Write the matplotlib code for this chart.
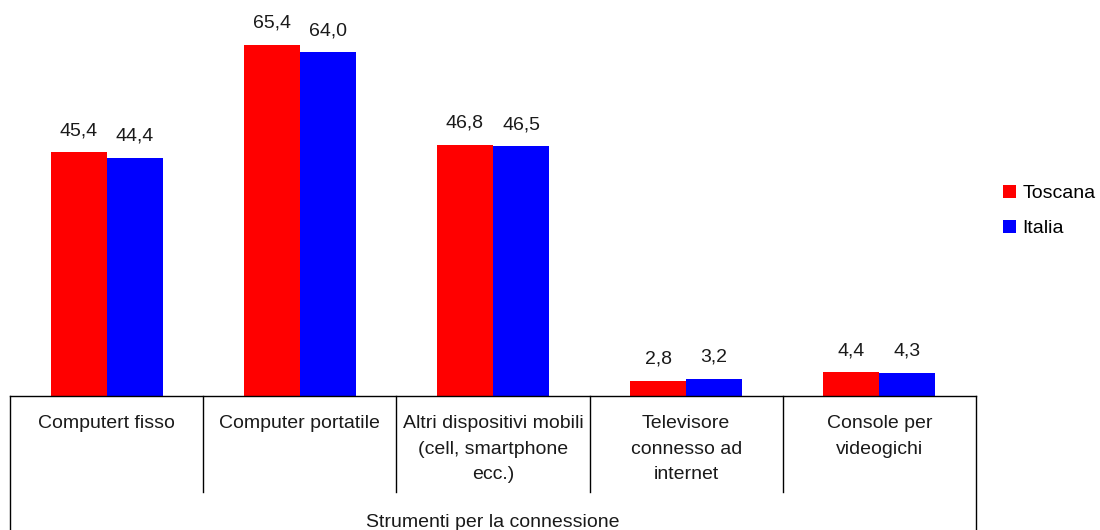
import numpy as np
import matplotlib
matplotlib.use("Agg")
import matplotlib.pyplot as plt
import matplotlib.transforms as mtransforms

# ---------------------------------------------------------------
# Data
# ---------------------------------------------------------------
categories = ["Computert fisso", "Computer portatile",
              "Altri dispositivi mobili\n(cell, smartphone\necc.)",
              "Televisore\nconnesso ad\ninternet", "Console per\nvideogichi"]
toscana = [45.4, 65.4, 46.8, 2.8, 4.4]
italia = [44.4, 64.0, 46.5, 3.2, 4.3]
series_names = ["Toscana", "Italia"]
axis_title = "Strumenti per la connessione"

plt.rcParams["font.family"] = ["Liberation Sans", "DejaVu Sans"]
FS = 14

W, H = 1100, 530
fig = plt.figure(figsize=(W / 100, H / 100), dpi=100)
# axes in pixel terms: x 10..976, y 20..396 (from top)
ax = fig.add_axes([10 / W, 1 - 396 / H, 966 / W, 376 / H])

x = np.arange(len(categories))
bw = 0.29
b1 = ax.bar(x - bw / 2, toscana, bw, color="#ff0000", label=series_names[0])
b2 = ax.bar(x + bw / 2, italia, bw, color="#0000ff", label=series_names[1])

for bars, vals in ((b1, toscana), (b2, italia)):
    for rect, v in zip(bars, vals):
        ax.annotate(f"{v:.1f}".replace(".", ","),
                    (rect.get_x() + rect.get_width() / 2, rect.get_height()),
                    xytext=(0, 13), textcoords="offset pixels",
                    ha="center", va="bottom", fontsize=FS, color="#1a1a1a")

ax.set_xlim(-0.5, len(categories) - 0.5)
ax.set_ylim(0, 70)
for s in ["top", "right", "left"]:
    ax.spines[s].set_visible(False)
ax.spines["bottom"].set_linewidth(1.0)
ax.set_xticks([])
ax.set_yticks([])

# category "table" below the axis
trans = mtransforms.blended_transform_factory(ax.transData, ax.transAxes)
px = 1 / 376  # one pixel in axes fraction (vertical)
for i in range(len(categories) + 1):
    xe = i - 0.5
    if i == 0 or i == len(categories):
        y_end = -134 * px
    else:
        y_end = -96 * px
    ax.plot([xe, xe], [0, y_end], color="black", lw=1.0, transform=trans, clip_on=False)

for i, lab in enumerate(categories):
    ax.text(i, -19 * px, lab, transform=trans, ha="center", va="top",
            fontsize=FS, linespacing=1.67, color="#1a1a1a")

ax.text(0.5, -118 * px, axis_title, transform=ax.transAxes, ha="center", va="top",
        fontsize=FS, color="#1a1a1a")

leg = fig.legend(loc="upper left", bbox_to_anchor=(993 / W, 1 - 175 / H),
                 frameon=False, fontsize=FS, handlelength=0.67, handleheight=0.67,
                 handletextpad=0.36, labelspacing=0.9, borderpad=0)

fig.savefig("out.png", dpi=100)
